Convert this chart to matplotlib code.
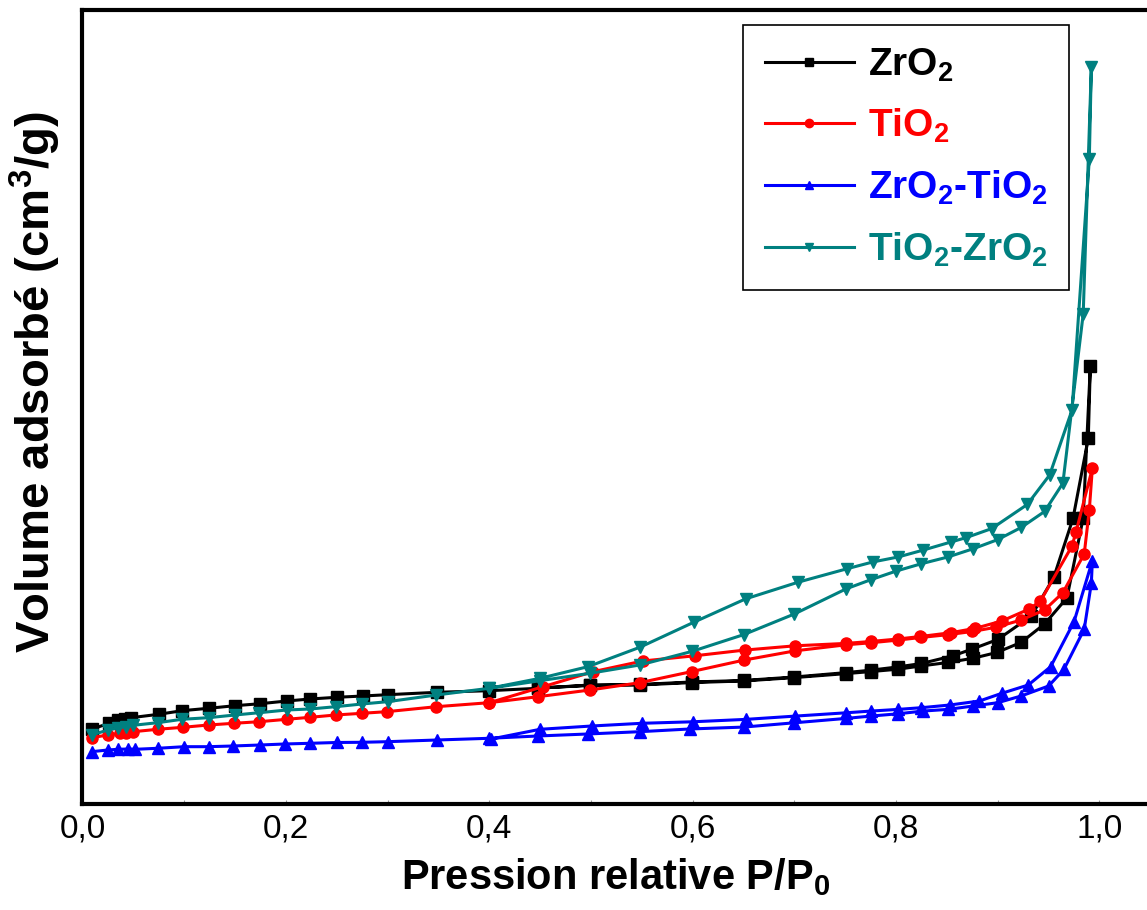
import matplotlib
matplotlib.use("Agg")
import matplotlib.pyplot as plt
from matplotlib.ticker import MultipleLocator, FuncFormatter

plt.rcParams['font.family'] = ['Liberation Sans', 'DejaVu Sans']
plt.rcParams['mathtext.fontset'] = 'custom'
plt.rcParams['mathtext.rm'] = 'Liberation Sans:bold'
plt.rcParams['mathtext.it'] = 'Liberation Sans:bold'
plt.rcParams['mathtext.bf'] = 'Liberation Sans:bold'

# N2 isotherms: adsorption branch (rising) then desorption branch (falling)
zr_ads_x = [0.009, 0.026, 0.035, 0.042, 0.048, 0.075, 0.098, 0.124, 0.15, 0.175, 0.201, 0.224, 0.25,
            0.276, 0.3, 0.349, 0.4, 0.448, 0.499, 0.548, 0.599, 0.65, 0.7, 0.751, 0.775, 0.802, 0.825,
            0.851, 0.876, 0.899, 0.923, 0.946, 0.968, 0.984, 0.991]
zr_ads_y = [14.94, 16.14, 16.8, 17.06, 17.26, 17.94, 18.66, 19.14, 19.66, 20.06, 20.6, 21.0, 21.34,
            21.6, 21.86, 22.34, 22.66, 23.14, 23.8, 23.8, 24.28, 24.6, 25.28, 26.08, 26.48, 26.96, 27.62,
            28.3, 29.16, 30.3, 32.32, 36.0, 41.22, 57.2, 87.6]
zr_des_x = [0.989, 0.974, 0.955, 0.933, 0.9, 0.875, 0.856, 0.825, 0.802, 0.775, 0.751, 0.7, 0.65,
            0.599, 0.548, 0.499, 0.448]
zr_des_y = [73.14, 57.14, 45.3, 37.6, 32.9, 31.0, 29.64, 28.1, 27.42, 26.76, 26.28, 25.4, 24.7,
            24.4, 23.9, 23.7, 23.2]

ti_ads_x = [0.009, 0.025, 0.037, 0.043, 0.05, 0.074, 0.099, 0.124, 0.149, 0.174, 0.201, 0.224, 0.249,
            0.275, 0.299, 0.348, 0.4, 0.448, 0.499, 0.548, 0.599, 0.65, 0.701, 0.751, 0.775, 0.802,
            0.825, 0.851, 0.875, 0.898, 0.923, 0.946, 0.964, 0.985, 0.99, 0.993]
ti_ads_y = [13.26, 13.8, 14.14, 14.26, 14.46, 14.94, 15.34, 15.8, 16.14, 16.46, 16.94, 17.34, 17.8,
            18.14, 18.46, 19.46, 20.26, 21.46, 22.8, 24.26, 26.48, 28.76, 30.64, 31.84, 32.24, 32.78,
            33.32, 33.86, 34.5, 35.34, 36.8, 38.8, 42.26, 50.0, 58.8, 67.14]
ti_des_x = [0.977, 0.973, 0.942, 0.931, 0.904, 0.878, 0.854, 0.824, 0.802, 0.775, 0.751, 0.701,
            0.651, 0.602, 0.551, 0.502, 0.453, 0.4]
ti_des_y = [54.46, 51.6, 40.6, 39.0, 36.6, 35.14, 34.26, 33.5, 33.0, 32.5, 32.12, 31.64,
            30.78, 29.64, 28.6, 26.46, 23.46, 20.26]

zt_ads_x = [0.009, 0.025, 0.035, 0.045, 0.052, 0.074, 0.1, 0.124, 0.148, 0.175, 0.199, 0.224, 0.25,
            0.275, 0.3, 0.349, 0.4, 0.448, 0.497, 0.548, 0.597, 0.65, 0.7, 0.751, 0.775, 0.802, 0.826,
            0.851, 0.876, 0.9, 0.923, 0.95, 0.965, 0.985, 0.992, 0.993]
zt_ads_y = [10.46, 10.8, 10.94, 11.0, 10.94, 11.14, 11.46, 11.46, 11.6, 11.8, 12.0, 12.14, 12.3,
            12.34, 12.46, 12.8, 13.14, 13.6, 14.0, 14.46, 15.0, 15.38, 16.24, 17.12, 17.58, 18.04, 18.58,
            18.92, 19.6, 20.26, 21.6, 23.6, 26.9, 34.96, 44.14, 48.66]
zt_des_x = [0.975, 0.952, 0.93, 0.904, 0.882, 0.853, 0.825, 0.802, 0.775, 0.751, 0.701, 0.652,
            0.6, 0.55, 0.501, 0.45, 0.402]
zt_des_y = [36.46, 27.46, 23.8, 22.14, 20.6, 19.8, 19.26, 18.92, 18.58, 18.24, 17.58, 16.92,
            16.44, 16.14, 15.6, 14.94, 13.0]

tz_ads_x = [0.009, 0.025, 0.035, 0.043, 0.05, 0.074, 0.098, 0.124, 0.15, 0.174, 0.201, 0.224, 0.249,
            0.275, 0.3, 0.348, 0.4, 0.45, 0.499, 0.548, 0.599, 0.65, 0.7, 0.751, 0.775, 0.8, 0.825,
            0.851, 0.876, 0.9, 0.923, 0.946, 0.964, 0.984, 0.992]
tz_ads_y = [13.8, 14.8, 15.26, 15.46, 15.74, 16.26, 16.94, 17.26, 17.8, 18.26, 18.8, 19.0, 19.46,
            20.0, 20.46, 21.8, 23.14, 24.66, 26.14, 27.8, 30.5, 33.86, 38.0, 43.04, 44.84, 46.58, 48.06,
            49.4, 51.06, 52.88, 55.3, 58.5, 64.14, 98.0, 147.34]
tz_des_x = [0.99, 0.973, 0.951, 0.929, 0.894, 0.869, 0.854, 0.826, 0.802, 0.777, 0.752, 0.704,
            0.652, 0.601, 0.548, 0.497, 0.45, 0.4]
tz_des_y = [128.94, 78.8, 65.8, 59.9, 55.08, 53.28, 52.4, 50.74, 49.4, 48.4, 47.06, 44.38,
            41.02, 36.34, 31.34, 27.46, 25.14, 23.14]

series = [
    (r'ZrO$_2$', zr_ads_x + zr_des_x, zr_ads_y + zr_des_y, 'black', 's'),
    (r'TiO$_2$', ti_ads_x + ti_des_x, ti_ads_y + ti_des_y, 'red', 'o'),
    (r'ZrO$_2$-TiO$_2$', zt_ads_x + zt_des_x, zt_ads_y + zt_des_y, 'blue', '^'),
    (r'TiO$_2$-ZrO$_2$', tz_ads_x + tz_des_x, tz_ads_y + tz_des_y, '#008080', 'v'),
]

fig = plt.figure(figsize=(11.47, 9.10), dpi=100)
ax = fig.add_axes([0.0719, 0.1165, 0.931, 0.8725])

for label, xs, ys, color, marker in series:
    ax.plot(xs, ys, color=color, marker=marker, markersize=8, linewidth=2.2, label=label)

ax.set_xlim(0, 1.05)
ax.set_ylim(0, 158.8)
ax.xaxis.set_major_locator(MultipleLocator(0.2))
ax.xaxis.set_minor_locator(MultipleLocator(0.1))
ax.xaxis.set_major_formatter(FuncFormatter(lambda v, p: f'{v:.1f}'.replace('.', ',')))
ax.tick_params(axis='x', which='both', direction='in', length=3, width=0.8,
               color='#999999', labelsize=24, pad=7)
ax.tick_params(axis='y', which='both', left=False, labelleft=False)

for side in ['left', 'bottom', 'top']:
    ax.spines[side].set_linewidth(3)
ax.spines['right'].set_visible(False)

fig.text(0.537, 0.036, r'Pression relative P/P$_0$', ha='center', va='center',
         fontsize=30, fontweight='bold')
fig.text(0.031, 0.58, r'Volume adsorbé (cm$^3$/g)', ha='center', va='center',
         rotation=90, fontsize=34, fontweight='bold')

leg = ax.legend(loc='upper right', bbox_to_anchor=(1069 / 1147, 1 - 25 / 910),
                bbox_transform=fig.transFigure, borderaxespad=0, fontsize=28,
                fancybox=False, edgecolor='black', framealpha=1, handlelength=2.3,
                labelspacing=0.6, markerscale=0.75, handletextpad=0.35, borderpad=0.55)
leg.get_frame().set_linewidth(1.2)
for text, (_, _, _, color, _) in zip(leg.get_texts(), series):
    text.set_color(color)
    text.set_fontweight('bold')

fig.savefig('out.png', dpi=100)
